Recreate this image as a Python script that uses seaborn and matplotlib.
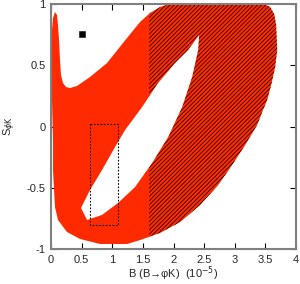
import matplotlib
matplotlib.use('Agg')
import matplotlib.pyplot as plt
from matplotlib.patches import Rectangle
import seaborn as sns
import pandas as pd

# outer boundary of the allowed region (clockwise, starting low on the left edge)
outer_x = [0.033, 0.016, 0.016, 0.016, 0.033, 0.065, 0.098, 0.114, 0.131, 0.147,
           0.163, 0.196, 0.245, 0.310, 0.425, 0.637, 0.915, 1.176, 1.454, 1.618,
           1.781, 1.93, 3.48, 3.578, 3.644, 3.676, 3.693, 3.660, 3.595, 3.529,
           3.448, 3.366, 3.170, 2.958, 2.729, 2.435, 2.108, 1.781, 1.454, 1.242,
           0.801, 0.474, 0.261, 0.114, 0.065, 0.033]
outer_y = [-0.110, 0.216, 0.543, 0.788, 0.886, 0.935, 0.910, 0.829, 0.706, 0.543,
           0.420, 0.355, 0.322, 0.314, 0.331, 0.404, 0.518, 0.682, 0.853, 0.927,
           0.976, 1.0, 1.0, 0.976, 0.918, 0.829, 0.624, 0.486, 0.339, 0.216,
           0.118, 0.012, -0.151, -0.314, -0.478, -0.641, -0.780, -0.869, -0.927, -0.959,
           -0.959, -0.918, -0.861, -0.763, -0.657, -0.355]

# white lens-shaped hole inside the band
hole_x = [2.418, 2.239, 2.026, 1.748, 1.487, 1.209, 1.046, 0.833, 0.637, 0.490,
          0.588, 0.833, 1.095, 1.373, 1.650, 1.912, 2.141, 2.304, 2.402]
hole_y = [0.747, 0.624, 0.518, 0.355, 0.159, -0.029, -0.167, -0.355, -0.518, -0.665,
          -0.763, -0.722, -0.624, -0.494, -0.298, -0.086, 0.159, 0.404, 0.624]

hatch_from = 1.6  # hatched part of the band starts here

# dotted box and the single point
box_x = [0.63, 1.09, 1.09, 0.63, 0.63]
box_y = [0.02, 0.02, -0.80, -0.80, 0.02]
pt_x = [0.51]
pt_y = [0.755]

xticks = [0, 0.5, 1, 1.5, 2, 2.5, 3, 3.5, 4]
xticklabels = ['0', '0.5', '1', '1.5', '2', '2.5', '3', '3.5', '4']
yticks = [-1, -0.5, 0, 0.5, 1]
yticklabels = ['-1', '-0.5', '0', '0.5', '1']

sns.set_style('ticks')
plt.rcParams['font.family'] = ['Liberation Sans', 'DejaVu Sans']
plt.rcParams['hatch.linewidth'] = 0.5

fig = plt.figure(figsize=(3.0, 2.84), dpi=100)
ax = fig.add_axes([0.17, 0.1232, 0.8167, 0.8627])

red = '#ff2a00'
ax.fill(outer_x, outer_y, color=red, linewidth=0, zorder=1)
hatched = ax.fill(outer_x, outer_y, facecolor='none', edgecolor='black',
                  hatch='////////', linewidth=0, zorder=2)[0]
hatched.set_clip_path(Rectangle((hatch_from, -1.2), 3, 2.4, transform=ax.transData))
ax.fill(hole_x, hole_y, color='white', linewidth=0, zorder=3)

box = pd.DataFrame({'x': box_x, 'y': box_y})
sns.lineplot(data=box, x='x', y='y', sort=False, estimator=None, ax=ax,
             color='black', linewidth=0.8, linestyle=(0, (1.5, 1.5)), zorder=4)
sns.scatterplot(x=pt_x, y=pt_y, marker='s', s=22, color='black',
                edgecolor='black', ax=ax, zorder=5)

ax.set_xlim(0, 4)
ax.set_ylim(-1, 1)
ax.set_xticks(xticks)
ax.set_xticklabels(xticklabels)
ax.set_yticks(yticks)
ax.set_yticklabels(yticklabels)
ax.tick_params(direction='in', length=4, width=0.8, color='black',
               top=True, right=True, labelsize=8, pad=4)
for sp in ax.spines.values():
    sp.set_color('#808080')
    sp.set_linewidth(1.5)
    sp.set_zorder(6)

ax.set_xlabel('B (B\u2192\u03c6K)  (10$^{-5}$)', fontsize=8, labelpad=0)
ax.set_ylabel(r'S$_{\phi\mathrm{K}}$', fontsize=8, labelpad=6)

fig.savefig('out.png', dpi=100)
